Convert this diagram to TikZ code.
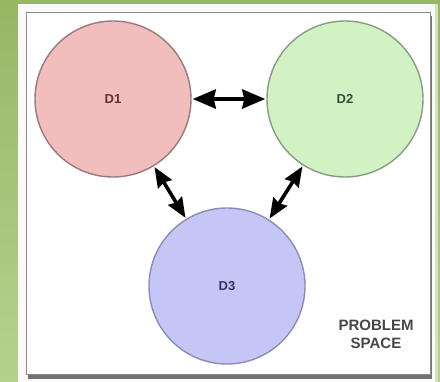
\documentclass[tikz,border=0pt]{standalone}
\usepackage{fontspec}
\setmainfont{Liberation Sans}
\usetikzlibrary{arrows.meta}

\definecolor{bgtop}{HTML}{98B765}
\definecolor{bgbot}{HTML}{B6D18E}
\definecolor{dOneFill}{HTML}{F2BDBD}
\definecolor{dOneEdge}{HTML}{9A7A7A}
\definecolor{dOneText}{HTML}{5A3434}
\definecolor{dTwoFill}{HTML}{D2F2C4}
\definecolor{dTwoEdge}{HTML}{869C84}
\definecolor{dTwoText}{HTML}{34503A}
\definecolor{dThreeFill}{HTML}{C5C5F6}
\definecolor{dThreeEdge}{HTML}{8C8CB8}
\definecolor{dThreeText}{HTML}{34345E}

\tikzset{
  domnode/.style={circle, minimum size=156pt, inner sep=0pt, line width=1.4pt,
                 font=\fontsize{13}{15}\selectfont\bfseries},
  link/.style={line width=4pt, black,
               {Stealth[length=23pt,width=19pt,inset=2pt]}-{Stealth[length=23pt,width=19pt,inset=2pt]},
               shorten <=1pt, shorten >=1pt},
  slant/.style={line width=3.6pt, black,
               {Stealth[length=20pt,width=16pt,inset=2pt]}-{Stealth[length=20pt,width=16pt,inset=2pt]},
               shorten <=1pt, shorten >=1pt},
}

\begin{document}
\begin{tikzpicture}[x=1pt,y=-1pt]
  % background
  \useasboundingbox (0,0) rectangle (440,382);
  \shade[top color=bgtop, bottom color=bgbot] (0,0) rectangle (440,382);
  \fill[bgbot!60!white] (435,4) rectangle (438,382);

  % white sheet with framed panel
  \fill[white!96!gray] (18,4) rectangle (435,382);
  \fill[black!55] (28,16) rectangle (432,379);
  \fill[white] (26,13) rectangle (430,375);
  \draw[black!45, line width=1pt] (26,13) rectangle (430,375);

  % domains
  \node[domnode, fill=dOneFill, draw=dOneEdge, text=dOneText] (d1) at (113,99) {D1};
  \node[domnode, fill=dTwoFill, draw=dTwoEdge, text=dTwoText] (d2) at (345,99) {D2};
  \node[domnode, fill=dThreeFill, draw=dThreeEdge, text=dThreeText] (d3) at (227,286) {D3};

  % relations between domains
  \draw[link] (d1) -- (d2);
  \draw[slant] (d1) -- (d3);
  \draw[slant] (d2) -- (d3);

  % caption
  \node[font=\fontsize{15}{18}\selectfont\bfseries, text=black!72, align=center]
    (ps) at (376,334) {PROBLEM\\SPACE};
\end{tikzpicture}
\end{document}
